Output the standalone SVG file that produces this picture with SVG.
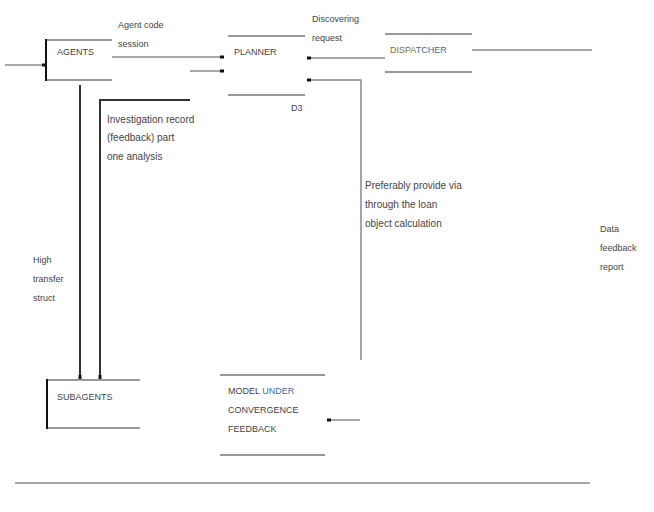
<svg xmlns="http://www.w3.org/2000/svg" width="654" height="512" viewBox="0 0 654 512">
<style>
text{font-family:"Liberation Sans",Arial,sans-serif;font-size:9px;fill:#444}
.l{font-size:10px}
.g{stroke:#999;stroke-width:2;fill:none}
.b{stroke:#111;stroke-width:2;fill:none}
.f{stroke:#888;stroke-width:1.5;fill:none}
.v{stroke:#333;stroke-width:2;fill:none}
</style>
<defs>
<marker id="dot" markerWidth="4" markerHeight="4" refX="2" refY="2" orient="auto" markerUnits="userSpaceOnUse">
<rect x="0" y="0.5" width="4" height="3" fill="#111"/>
</marker>
</defs>
<rect width="654" height="512" fill="#fff"/>
<g id="connectors">
<line class="f" x1="5" y1="65" x2="44" y2="65" marker-end="url(#dot)"/>
<line class="f" x1="112" y1="57" x2="222" y2="57" marker-end="url(#dot)"/>
<line class="f" x1="190" y1="71" x2="222" y2="71" marker-end="url(#dot)"/>
<line class="f" x1="385" y1="58" x2="309" y2="58" marker-end="url(#dot)"/>
<polyline class="f" points="361,360 361,80 309,80" marker-end="url(#dot)"/>
<line class="f" x1="472" y1="50" x2="592" y2="50"/>
<line class="v" x1="80" y1="85" x2="80" y2="377" marker-end="url(#dot)"/>
<polyline class="v" points="190,100 100,100 100,377" marker-end="url(#dot)"/>
<line class="f" x1="360" y1="420" x2="329" y2="420" marker-end="url(#dot)"/>
<line class="f" x1="15" y1="483" x2="590" y2="483"/>
<text x="118" y="28">Agent code</text>
<text x="118" y="47">session</text>
<text x="312" y="22">Discovering</text>
<text x="312" y="41">request</text>
<text class="l" x="107" y="123">Investigation record</text>
<text class="l" x="107" y="141">(feedback) part</text>
<text class="l" x="107" y="160">one analysis</text>
<text x="33" y="263">High</text>
<text x="33" y="282">transfer</text>
<text x="33" y="301">struct</text>
<text class="l" x="365" y="189">Preferably provide via</text>
<text class="l" x="365" y="208">through the loan</text>
<text class="l" x="365" y="227">object calculation</text>
<text x="600" y="232">Data</text>
<text x="600" y="251">feedback</text>
<text x="600" y="270">report</text>
</g>
<g id="agents">
<line class="g" x1="46" y1="40" x2="112" y2="40"/>
<line class="g" x1="46" y1="80" x2="112" y2="80"/>
<line class="b" x1="46" y1="39" x2="46" y2="81"/>
<text x="57" y="55">AGENTS</text>
</g>
<g id="planner">
<line class="g" x1="228" y1="36" x2="305" y2="36"/>
<line class="g" x1="228" y1="95" x2="305" y2="95"/>
<text x="234" y="55">PLANNER</text>
<text x="291" y="111">D3</text>
</g>
<g id="dispatcher">
<line class="g" x1="385" y1="34" x2="472" y2="34"/>
<line class="g" x1="385" y1="72" x2="472" y2="72"/>
<text x="390" y="53"><tspan fill="#8a6d2a">DISPA</tspan><tspan fill="#3a6ea5">TCHER</tspan></text>
</g>
<g id="subagents">
<line class="g" x1="47" y1="380" x2="140" y2="380"/>
<line class="g" x1="47" y1="428" x2="140" y2="428"/>
<line class="b" x1="47" y1="379" x2="47" y2="429"/>
<text x="57" y="400">SUBAGENTS</text>
</g>
<g id="model">
<line class="g" x1="220" y1="375" x2="325" y2="375"/>
<line class="g" x1="220" y1="455" x2="325" y2="455"/>
<text x="228" y="394">MODEL <tspan fill="#3a6ea5">UNDER</tspan></text>
<text x="228" y="413">CONVERGENCE</text>
<text x="228" y="432">FEEDBACK</text>
</g>
</svg>
